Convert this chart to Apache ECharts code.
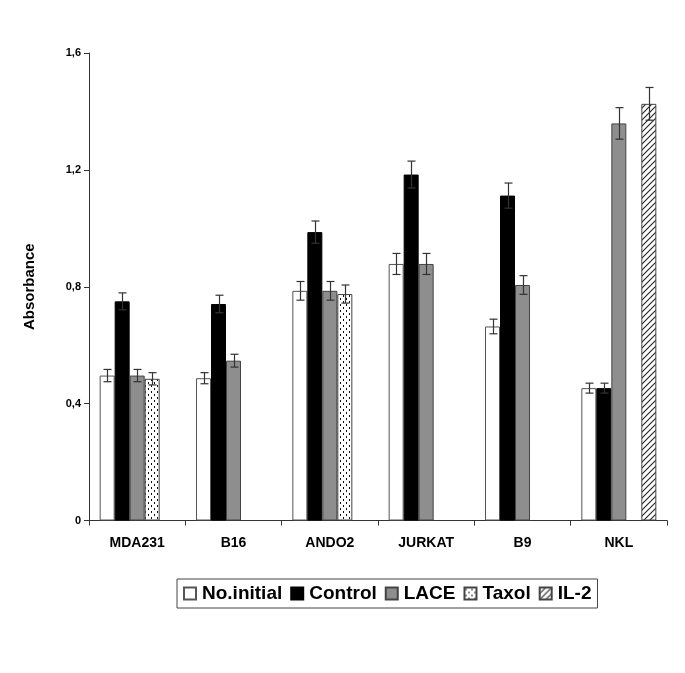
<!DOCTYPE html>
<html>
<head>
<meta charset="utf-8">
<script src="https://cdn.jsdelivr.net/npm/echarts@6/dist/echarts.min.js"></script>
<style>html,body{margin:0;padding:0;background:#fff}#c{width:685px;height:673px}</style>
</head>
<body>
<div id="c"></div>
<script>
const categories = ['MDA231', 'B16', 'ANDO2', 'JURKAT', 'B9', 'NKL'];
const seriesNames = ['No.initial', 'Control', 'LACE', 'Taxol', 'IL-2'];
const noInitial = [0.496, 0.487, 0.786, 0.878, 0.664, 0.453];
const control   = [0.750, 0.741, 0.987, 1.184, 1.112, 0.453];
const lace      = [0.496, 0.547, 0.786, 0.878, 0.806, 1.359];
const taxol     = [0.485, null, 0.775, null, null, null];
const il2       = [null, null, null, null, null, 1.426];
const errNoInitial = [0.021, 0.019, 0.032, 0.036, 0.025, 0.017];
const errControl   = [0.029, 0.030, 0.038, 0.046, 0.043, 0.017];
const errLace      = [0.021, 0.022, 0.032, 0.036, 0.032, 0.054];
const errTaxol     = [0.021, null, 0.031, null, null, null];
const errIl2       = [null, null, null, null, null, 0.056];
const yTicks = [0, 0.4, 0.8, 1.2, 1.6];

function makePattern(kind) {
  const c = document.createElement('canvas');
  const s = 6;
  c.width = s; c.height = s;
  const g = c.getContext('2d');
  g.fillStyle = '#fff'; g.fillRect(0, 0, s, s);
  if (kind === 'dots') {
    g.fillStyle = '#111';
    g.fillRect(1, 1, 1, 2);
    g.fillRect(4, 4, 1, 2);
  } else {
    g.strokeStyle = '#222'; g.lineWidth = 1.1;
    g.beginPath();
    g.moveTo(-1, s + 1); g.lineTo(s + 1, -1);
    g.moveTo(-1, 1); g.lineTo(1, -1);
    g.moveTo(s - 1, s + 1); g.lineTo(s + 1, s - 1);
    g.stroke();
  }
  return { image: c, repeat: 'repeat' };
}

const values = [noInitial, control, lace, taxol, il2];
const errs = [errNoInitial, errControl, errLace, errTaxol, errIl2];
const fills = ['#ffffff', '#000000', '#8e8e8e', makePattern('dots'), makePattern('hatch')];
const borders = ['#555', '#000', '#444', '#444', '#444'];
const BAR_W = 15;
const FONT = 'Liberation Sans, Arial, sans-serif';

const errData = [];
errs.forEach((arr, k) => arr.forEach((e, i) => {
  if (e != null && values[k][i] != null) errData.push([i, values[k][i], e, k]);
}));

const series = values.map((v, k) => ({
  name: seriesNames[k],
  type: 'bar',
  data: v,
  barWidth: BAR_W,
  barGap: 0,
  itemStyle: { color: fills[k], borderColor: borders[k], borderWidth: 1 },
  emphasis: { disabled: true },
  z: 2
}));

series.push({
  type: 'custom',
  data: errData,
  z: 5,
  silent: true,
  renderItem: function (params, api) {
    const i = api.value(0), v = api.value(1), e = api.value(2), k = api.value(3);
    const nSeries = 5;
    const off = (k - (nSeries - 1) / 2) * BAR_W;
    const top = api.coord([i, v + e]);
    const bot = api.coord([i, v - e]);
    const x = Math.round(top[0] + off) + 0.5;
    const cap = 4;
    const st = { stroke: '#333', lineWidth: 1.2 };
    return {
      type: 'group',
      children: [
        { type: 'line', shape: { x1: x, y1: top[1], x2: x, y2: bot[1] }, style: st },
        { type: 'line', shape: { x1: x - cap, y1: top[1], x2: x + cap, y2: top[1] }, style: st },
        { type: 'line', shape: { x1: x - cap, y1: bot[1], x2: x + cap, y2: bot[1] }, style: st }
      ]
    };
  }
});

const chart = echarts.init(document.getElementById('c'), null, { renderer: 'canvas' });
chart.setOption({
  backgroundColor: '#fff',
  animation: false,
  textStyle: { fontFamily: FONT },
  grid: { left: 89, right: 18, top: 53, bottom: 152.5, containLabel: false },
  legend: {
    data: seriesNames,
    left: 177, top: 579,
    padding: [5, 6, 5, 6],
    itemGap: 8,
    itemWidth: 12, itemHeight: 12,
    icon: 'rect',
    borderColor: '#444', borderWidth: 1,
    textStyle: { fontFamily: FONT, fontWeight: 'bold', fontSize: 19, color: '#000', padding: [0, 0, 0, 1] },
    selectedMode: false
  },
  xAxis: {
    type: 'category',
    data: categories,
    axisLine: { lineStyle: { color: '#333', width: 1 } },
    axisTick: { show: true, length: 5, lineStyle: { color: '#333' } },
    axisLabel: { fontFamily: FONT, fontWeight: 'bold', fontSize: 14, color: '#000', margin: 16 }
  },
  yAxis: {
    type: 'value',
    min: yTicks[0], max: yTicks[yTicks.length - 1], interval: 0.4,
    name: 'Absorbance',
    nameLocation: 'middle',
    nameGap: 52,
    nameTextStyle: { fontFamily: FONT, fontWeight: 'bold', fontSize: 15, color: '#000' },
    axisLine: { show: true, lineStyle: { color: '#333', width: 1 } },
    axisTick: { show: true, length: 5, lineStyle: { color: '#333' } },
    splitLine: { show: false },
    axisLabel: {
      fontFamily: FONT, fontWeight: 'bold', fontSize: 11, color: '#000', margin: 8,
      formatter: function (v) { return String(Math.round(v * 10) / 10).replace('.', ','); }
    }
  },
  series: series
});
</script>
</body>
</html>
